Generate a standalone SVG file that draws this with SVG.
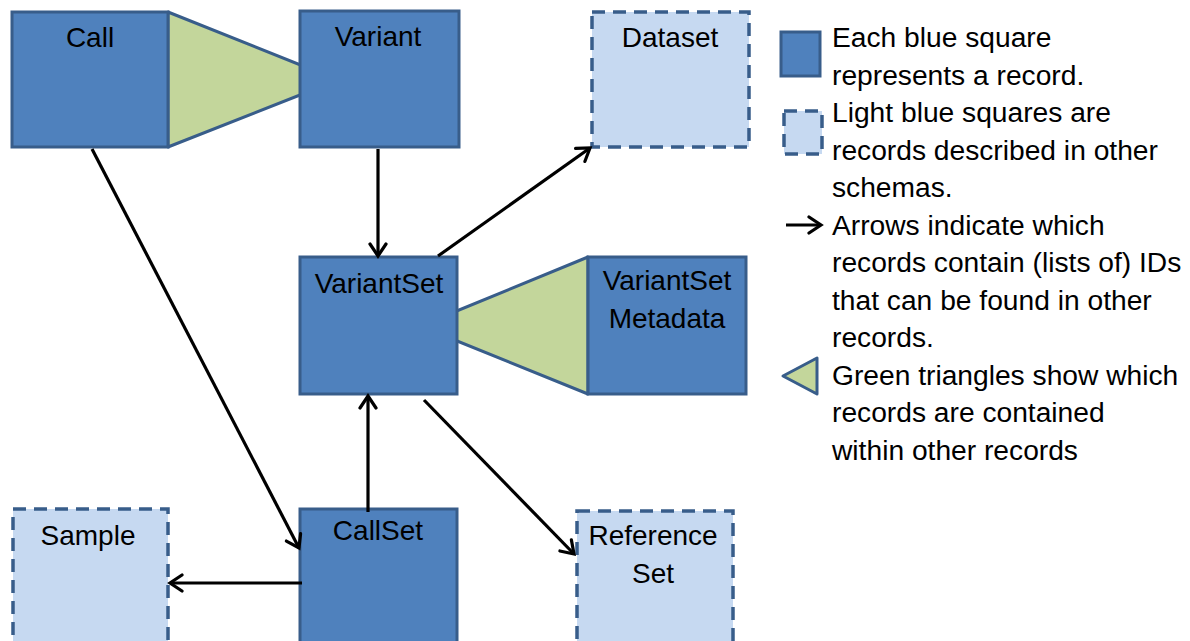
<svg xmlns="http://www.w3.org/2000/svg" width="1190" height="641" viewBox="0 0 1190 641">
  <style>
    .rec { fill: #4F81BD; stroke: #385D8A; stroke-width: 3; }
    .ext { fill: #C6D9F1; stroke: #385D8A; stroke-width: 3.5; stroke-dasharray: 13 8; }
    .tri { fill: #C3D69B; stroke: #385D8A; stroke-width: 3; stroke-linejoin: round; }
    .lbl { font-family: "Liberation Sans", Arial, sans-serif; font-size: 28px; fill: #000; text-anchor: middle; }
    .leg { font-family: "Liberation Sans", Arial, sans-serif; font-size: 28.2px; fill: #000; }
    .conn { stroke: #000; stroke-width: 3.2; fill: none; marker-end: url(#open); }
  </style>
  <defs>
    <marker id="open" markerUnits="userSpaceOnUse" markerWidth="20" markerHeight="20" viewBox="0 0 20 20" refX="17" refY="10" orient="auto">
      <path d="M5,2 L17,10 L5,18" fill="none" stroke="#000" stroke-width="3.2" stroke-linecap="round" stroke-linejoin="miter"/>
    </marker>
  </defs>

  <rect width="1190" height="641" fill="#fff"/>

  <!-- containment triangles (drawn beneath the record boxes) -->
  <g id="contain-call-variant">
    <polygon class="tri" points="168,12 338,80 168,147"/>
  </g>
  <g id="contain-metadata-variantset">
    <polygon class="tri" points="588,257 420,326 588,394"/>
  </g>

  <g id="node-call">
    <rect class="rec" x="12" y="12" width="156" height="135"/>
    <text class="lbl" x="90" y="47">Call</text>
  </g>
  <g id="node-variant">
    <rect class="rec" x="300" y="11" width="159" height="136"/>
    <text class="lbl" x="378" y="46">Variant</text>
  </g>
  <g id="node-dataset">
    <rect class="ext" x="592" y="12" width="157" height="135"/>
    <text class="lbl" x="670" y="47">Dataset</text>
  </g>
  <g id="node-variantset">
    <rect class="rec" x="300" y="257" width="157" height="137"/>
    <text class="lbl" x="379" y="293">VariantSet</text>
  </g>
  <g id="node-variantset-metadata">
    <rect class="rec" x="588" y="257" width="158" height="137"/>
    <text class="lbl" x="667" y="290">VariantSet</text>
    <text class="lbl" x="667" y="328">Metadata</text>
  </g>
  <g id="node-sample">
    <rect class="ext" x="13" y="509" width="155" height="160"/>
    <text class="lbl" x="88" y="545">Sample</text>
  </g>
  <g id="node-callset">
    <rect class="rec" x="300" y="509" width="157" height="160"/>
    <text class="lbl" x="378" y="540">CallSet</text>
  </g>
  <g id="node-referenceset">
    <rect class="ext" x="577" y="511" width="156" height="160"/>
    <text class="lbl" x="653" y="545">Reference</text>
    <text class="lbl" x="653" y="583">Set</text>
  </g>

  <g id="connectors">
    <line class="conn" x1="378" y1="149" x2="378" y2="256"/>
    <line class="conn" x1="438" y1="256" x2="590" y2="148"/>
    <line class="conn" x1="92" y1="149" x2="299" y2="548"/>
    <line class="conn" x1="368" y1="512" x2="368" y2="396"/>
    <line class="conn" x1="424" y1="400" x2="574" y2="554"/>
    <line class="conn" x1="302" y1="583" x2="170" y2="583"/>
  </g>

  <g id="legend">
    <rect class="rec" x="781" y="32" width="39" height="44"/>
    <rect class="ext" x="784" y="111" width="38" height="43" fill="#B9CDE5" stroke-dasharray="10 6"/>
    <line class="conn" x1="786" y1="225" x2="821" y2="225"/>
    <polygon class="tri" points="783,376 817,358 817,394"/>
    <text class="leg" x="832" y="47">Each blue square</text>
    <text class="leg" x="832" y="84.5">represents a record.</text>
    <text class="leg" x="832" y="122">Light blue squares are</text>
    <text class="leg" x="832" y="159.5">records described in other</text>
    <text class="leg" x="832" y="197">schemas.</text>
    <text class="leg" x="832" y="234.5">Arrows indicate which</text>
    <text class="leg" x="832" y="272">records contain (lists of) IDs</text>
    <text class="leg" x="832" y="309.5">that can be found in other</text>
    <text class="leg" x="832" y="347">records.</text>
    <text class="leg" x="832" y="384.5">Green triangles show which</text>
    <text class="leg" x="832" y="422">records are contained</text>
    <text class="leg" x="832" y="459.5">within other records</text>
  </g>
</svg>
